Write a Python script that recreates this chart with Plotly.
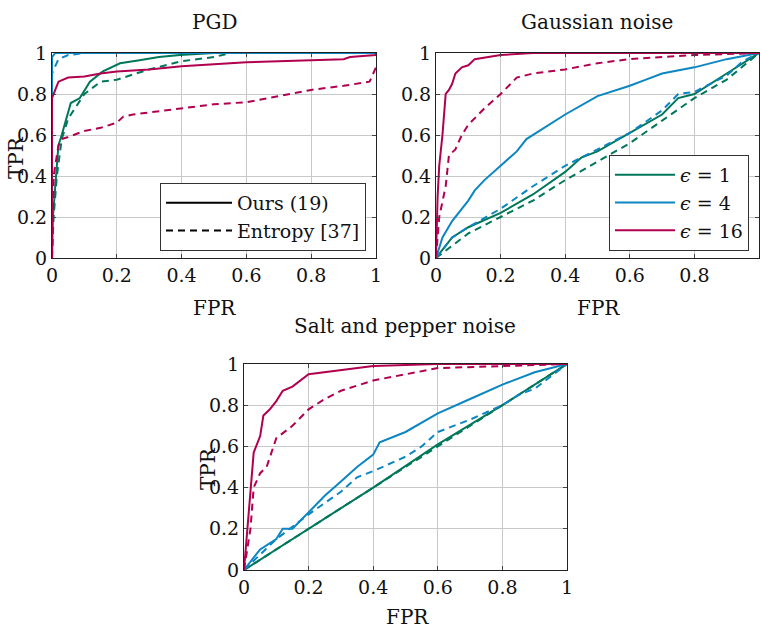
import plotly.graph_objects as go

# ---------------- data ----------------
# PGD panel
pgd_green_x = [0, 0.003, 0.01, 0.02, 0.03, 0.045, 0.058, 0.086, 0.117, 0.157, 0.21, 0.27, 0.33, 0.395, 0.5, 1]
pgd_green_y = [0, 0.2, 0.35, 0.55, 0.6, 0.68, 0.756, 0.78, 0.86, 0.91, 0.95, 0.965, 0.98, 0.99, 1, 1]
pgd_green_d_x = [0, 0.005, 0.015, 0.03, 0.05, 0.1, 0.15, 0.2, 0.3, 0.4, 0.5, 0.55, 1]
pgd_green_d_y = [0, 0.2, 0.4, 0.58, 0.68, 0.8, 0.86, 0.87, 0.92, 0.96, 0.98, 1, 1]
pgd_blue_x = [0, 0, 0.01, 1]
pgd_blue_y = [0, 0.98, 1, 1]
pgd_blue_d_x = [0, 0, 0.02, 0.05, 0.1, 1]
pgd_blue_d_y = [0, 0.9, 0.97, 0.99, 1, 1]
pgd_red_x = [0, 0, 0.01, 0.02, 0.05, 0.1, 0.15, 0.2, 0.3, 0.4, 0.5, 0.6, 0.8, 0.9, 0.92, 1, 1]
pgd_red_y = [0, 0.78, 0.82, 0.86, 0.88, 0.885, 0.9, 0.91, 0.92, 0.935, 0.945, 0.955, 0.965, 0.97, 0.98, 0.99, 1]
pgd_red_d_x = [0, 0.005, 0.01, 0.02, 0.03, 0.05, 0.1, 0.15, 0.2, 0.22, 0.25, 0.3, 0.4, 0.5, 0.6, 0.7, 0.8, 0.9, 0.98, 1]
pgd_red_d_y = [0, 0.4, 0.45, 0.55, 0.58, 0.59, 0.62, 0.635, 0.66, 0.69, 0.7, 0.71, 0.73, 0.75, 0.76, 0.79, 0.82, 0.84, 0.86, 0.93]

# Gaussian noise panel
gau_red_x = [0, 0.005, 0.01, 0.02, 0.03, 0.04, 0.05, 0.06, 0.08, 0.1, 0.12, 0.2, 0.3, 1]
gau_red_y = [0, 0.3, 0.45, 0.6, 0.8, 0.82, 0.85, 0.9, 0.93, 0.94, 0.97, 0.99, 1, 1]
gau_red_d_x = [0, 0.01, 0.03, 0.04, 0.06, 0.08, 0.1, 0.15, 0.2, 0.25, 0.3, 0.4, 0.5, 0.6, 0.7, 0.8, 1]
gau_red_d_y = [0, 0.2, 0.35, 0.5, 0.53, 0.6, 0.65, 0.73, 0.8, 0.88, 0.9, 0.92, 0.95, 0.97, 0.98, 0.99, 1]
gau_blue_x = [0, 0.02, 0.05, 0.1, 0.12, 0.15, 0.2, 0.25, 0.28, 0.32, 0.4, 0.5, 0.6, 0.65, 0.7, 0.8, 0.9, 1]
gau_blue_y = [0, 0.1, 0.18, 0.28, 0.33, 0.38, 0.45, 0.52, 0.58, 0.62, 0.7, 0.79, 0.84, 0.87, 0.9, 0.93, 0.97, 1]
gau_blue_d_x = [0, 0.05, 0.1, 0.2, 0.3, 0.4, 0.5, 0.6, 0.7, 0.75, 0.8, 0.9, 0.95, 1]
gau_blue_d_y = [0, 0.1, 0.15, 0.24, 0.35, 0.45, 0.53, 0.61, 0.72, 0.8, 0.81, 0.89, 0.96, 1]
gau_green_x = [0, 0.05, 0.1, 0.2, 0.3, 0.4, 0.45, 0.5, 0.6, 0.7, 0.75, 0.8, 0.9, 1]
gau_green_y = [0, 0.1, 0.15, 0.22, 0.31, 0.42, 0.49, 0.52, 0.61, 0.7, 0.78, 0.8, 0.9, 1]
gau_green_d_x = [0, 0.1, 0.2, 0.3, 0.4, 0.5, 0.6, 0.7, 0.8, 0.9, 1]
gau_green_d_y = [0, 0.12, 0.2, 0.28, 0.38, 0.47, 0.56, 0.67, 0.78, 0.87, 1]

# Salt and pepper panel
sp_red_x = [0, 0.01, 0.02, 0.03, 0.05, 0.06, 0.08, 0.1, 0.12, 0.15, 0.2, 0.3, 0.4, 0.6, 1]
sp_red_y = [0, 0.2, 0.4, 0.57, 0.65, 0.75, 0.78, 0.82, 0.87, 0.89, 0.95, 0.97, 0.99, 1, 1]
sp_red_d_x = [0, 0.02, 0.03, 0.05, 0.07, 0.08, 0.09, 0.1, 0.15, 0.2, 0.25, 0.3, 0.4, 0.5, 0.6, 0.8, 1]
sp_red_d_y = [0, 0.2, 0.4, 0.47, 0.5, 0.55, 0.6, 0.64, 0.7, 0.78, 0.83, 0.87, 0.92, 0.95, 0.98, 0.99, 1]
sp_blue_x = [0, 0.05, 0.1, 0.12, 0.15, 0.2, 0.25, 0.3, 0.35, 0.4, 0.42, 0.5, 0.6, 0.7, 0.8, 0.9, 1]
sp_blue_y = [0, 0.1, 0.15, 0.2, 0.2, 0.28, 0.36, 0.43, 0.5, 0.56, 0.62, 0.67, 0.76, 0.83, 0.9, 0.96, 1]
sp_blue_d_x = [0, 0.1, 0.2, 0.3, 0.35, 0.4, 0.5, 0.55, 0.6, 0.7, 0.8, 0.85, 0.9, 0.95, 1]
sp_blue_d_y = [0, 0.15, 0.27, 0.38, 0.45, 0.48, 0.55, 0.6, 0.67, 0.73, 0.8, 0.85, 0.88, 0.94, 1]
sp_green_x = [0, 0.2, 0.4, 0.6, 0.8, 1]
sp_green_y = [0, 0.2, 0.4, 0.61, 0.8, 1]
sp_green_d_x = [0, 0.2, 0.4, 0.6, 0.8, 1]
sp_green_d_y = [0, 0.2, 0.4, 0.6, 0.8, 1]

tick_vals = [0, 0.2, 0.4, 0.6, 0.8, 1]
tick_text = ["0", "0.2", "0.4", "0.6", "0.8", "1"]
titles = ["PGD", "Gaussian noise", "Salt and pepper noise"]
legend1_labels = ["Ours (19)", "Entropy [37]"]
legend2_labels = ["<i>ϵ</i> = 1", "<i>ϵ</i> = 4", "<i>ϵ</i> = 16"]

# ---------------- style ----------------
GREEN = "#00775a"
BLUE = "#0b86c2"
RED = "#b0004f"
FONT = "DejaVu Serif"
W, H = 760, 629
LW = 2
DASH = "7px,5px"

def px_x(p):
    return p / W

def px_y(p):
    return 1 - p / H

# panel pixel boxes (screen px): (left, right, top, bottom)
boxes = [(52, 376, 53, 258), (436, 759, 53, 258), (244, 567, 364, 570)]

fig = go.Figure()

panels = [
    [(pgd_green_x, pgd_green_y, GREEN, "solid"), (pgd_green_d_x, pgd_green_d_y, GREEN, DASH),
     (pgd_blue_x, pgd_blue_y, BLUE, "solid"), (pgd_blue_d_x, pgd_blue_d_y, BLUE, DASH),
     (pgd_red_x, pgd_red_y, RED, "solid"), (pgd_red_d_x, pgd_red_d_y, RED, DASH)],
    [(gau_green_d_x, gau_green_d_y, GREEN, DASH), (gau_green_x, gau_green_y, GREEN, "solid"),
     (gau_blue_d_x, gau_blue_d_y, BLUE, DASH), (gau_blue_x, gau_blue_y, BLUE, "solid"),
     (gau_red_d_x, gau_red_d_y, RED, DASH), (gau_red_x, gau_red_y, RED, "solid")],
    [(sp_green_d_x, sp_green_d_y, GREEN, DASH), (sp_green_x, sp_green_y, GREEN, "solid"),
     (sp_blue_d_x, sp_blue_d_y, BLUE, DASH), (sp_blue_x, sp_blue_y, BLUE, "solid"),
     (sp_red_d_x, sp_red_d_y, RED, DASH), (sp_red_x, sp_red_y, RED, "solid")],
]

for i, curves in enumerate(panels):
    xa = "x" if i == 0 else f"x{i+1}"
    ya = "y" if i == 0 else f"y{i+1}"
    for cx, cy, col, dash in curves:
        fig.add_trace(go.Scatter(x=cx, y=cy, mode="lines", xaxis=xa, yaxis=ya,
                                 line=dict(color=col, width=LW, dash=dash),
                                 showlegend=False, hoverinfo="skip", cliponaxis=True))

# legend entries (dummy traces)
for lab, dash in zip(legend1_labels, ["solid", DASH]):
    fig.add_trace(go.Scatter(x=[None], y=[None], mode="lines", name=lab,
                             line=dict(color="black", width=LW, dash=dash),
                             legend="legend", showlegend=True))
for lab, col in zip(legend2_labels, [GREEN, BLUE, RED]):
    fig.add_trace(go.Scatter(x=[None], y=[None], mode="lines", name=lab,
                             line=dict(color=col, width=LW),
                             legend="legend2", showlegend=True, xaxis="x2", yaxis="y2"))

axis_common = dict(range=[0, 1], tickvals=tick_vals, ticktext=tick_text,
                   showgrid=True, gridcolor="#c8c8c8", gridwidth=1,
                   showline=True, linecolor="#222", linewidth=1.2, mirror="ticks",
                   ticks="inside", ticklen=4, tickcolor="#444",
                   zeroline=False, tickfont=dict(family=FONT, size=19, color="#111"),
                   fixedrange=True, automargin=False)

layout = dict(width=W, height=H, margin=dict(l=0, r=0, t=0, b=0, autoexpand=False),
              plot_bgcolor="white", paper_bgcolor="white",
              font=dict(family=FONT, size=19, color="#111"))

for i, (l, r, t, b) in enumerate(boxes):
    xk = "xaxis" if i == 0 else f"xaxis{i+1}"
    yk = "yaxis" if i == 0 else f"yaxis{i+1}"
    xa = "x" if i == 0 else f"x{i+1}"
    ya = "y" if i == 0 else f"y{i+1}"
    layout[xk] = dict(axis_common, domain=[px_x(l), px_x(r)], anchor=ya)
    layout[yk] = dict(axis_common, domain=[px_y(b), px_y(t)], anchor=xa)

layout["legend"] = dict(x=px_x(366), y=px_y(251), xanchor="right", yanchor="bottom",
                        bordercolor="#333", borderwidth=1, bgcolor="white",
                        font=dict(family=FONT, size=19, color="#111"),
                        itemwidth=66)
layout["legend2"] = dict(x=px_x(749), y=px_y(251), xanchor="right", yanchor="bottom",
                         bordercolor="#333", borderwidth=1, bgcolor="white",
                         font=dict(family=FONT, size=19, color="#111"),
                         itemwidth=60)

fig.update_layout(**layout)

# titles and axis labels as annotations
title_pos = [(214, 22), (597, 22), (405, 326)]
for txt, (tx, ty) in zip(titles, title_pos):
    fig.add_annotation(text=txt, x=px_x(tx), y=px_y(ty), xref="paper", yref="paper",
                       xanchor="center", yanchor="middle", showarrow=False,
                       font=dict(family=FONT, size=20, color="#111"))
fpr_pos = [(214, 308), (598, 308), (407, 617)]
for tx, ty in fpr_pos:
    fig.add_annotation(text="FPR", x=px_x(tx), y=px_y(ty), xref="paper", yref="paper",
                       xanchor="center", yanchor="middle", showarrow=False,
                       font=dict(family=FONT, size=20, color="#111"))
tpr_pos = [(16, 158), (208, 469)]
for tx, ty in tpr_pos:
    fig.add_annotation(text="TPR", x=px_x(tx), y=px_y(ty), xref="paper", yref="paper",
                       xanchor="center", yanchor="middle", showarrow=False, textangle=-90,
                       font=dict(family=FONT, size=20, color="#111"))

fig.write_html("out.html", config={"displayModeBar": False},
               post_script="document.body.style.margin='0';document.body.style.overflow='hidden';")
